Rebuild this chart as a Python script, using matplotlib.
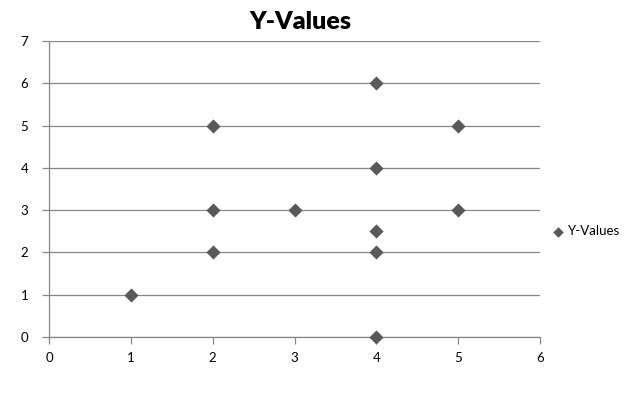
import matplotlib
matplotlib.use("Agg")
import matplotlib.pyplot as plt

x_values = [1, 2, 2, 2, 3, 4, 4, 4, 4, 4, 5, 5]
y_values = [1, 5, 3, 2, 3, 6, 4, 2.5, 2, 0, 5, 3]
series_name = "Y-Values"
title = "Y-Values"
x_ticks = [0, 1, 2, 3, 4, 5, 6]
y_ticks = [0, 1, 2, 3, 4, 5, 6, 7]

plt.rcParams['font.family'] = ['Lato', 'DejaVu Sans']

fig = plt.figure(figsize=(6.27, 3.94), dpi=100)
ax = fig.add_axes([49/627, 1-337/394, (540-49)/627, (337-41)/394])

ax.scatter(x_values, y_values, marker='D', s=52, color='#595959', zorder=3,
           label=series_name, linewidths=0, clip_on=False)

ax.set_xlim(0, 6)
ax.set_ylim(0, 7)
ax.set_xticks(x_ticks)
ax.set_yticks(y_ticks)
ax.yaxis.grid(True, color='#878787', linewidth=0.9)
ax.set_axisbelow(True)
for s in ['top', 'right']:
    ax.spines[s].set_visible(False)
for s in ['left', 'bottom']:
    ax.spines[s].set_color('#878787')
    ax.spines[s].set_linewidth(0.9)
ax.tick_params(axis='both', colors='#878787', length=5, width=0.9, labelcolor='#000000',
               labelsize=9.5)
ax.tick_params(axis='y', pad=10)
ax.tick_params(axis='x', pad=6)

fig.text(0.479, 1-22/394, title, ha='center', va='center', fontsize=18, fontweight='heavy')

leg = fig.legend(loc='center left', bbox_to_anchor=(538/627, 1-231/394), frameon=False,
                 fontsize=9.5, handletextpad=0.2, scatterpoints=1, markerscale=0.75,
                 handlelength=1.2)

fig.savefig('out.png', dpi=100)
